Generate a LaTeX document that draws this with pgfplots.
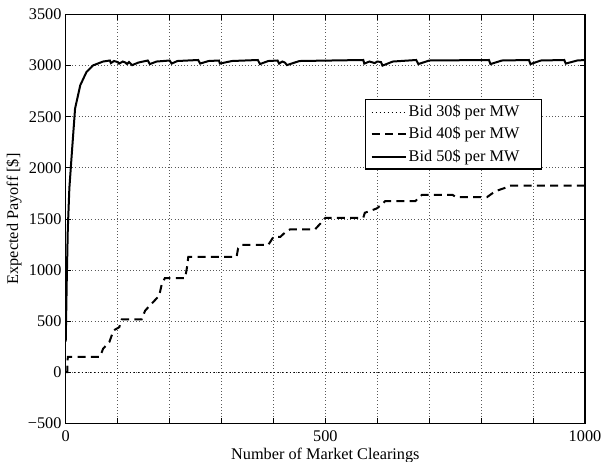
\documentclass[border=0pt]{standalone}
\usepackage{fontspec}
\setmainfont{Liberation Serif}
\usepackage{pgfplots}
\usepackage{pgfplotstable}
\pgfplotsset{compat=1.18}

% Bid 40$ per MW: step curve
\pgfplotstableread{
x y
0 0
3 0
4 150
66 150
72 230
84 295
92 408
103 440
108 516
146 516
153 603
168 684
180 749
185 863
191 921
230 921
234 1041
236 1128
329 1128
332 1213
340 1245
390 1245
397 1300
400 1323
413 1323
424 1375
432 1397
480 1397
490 1452
500 1511
573 1511
576 1560
599 1602
612 1657
615 1673
673 1673
686 1735
745 1735
752 1712
811 1712
827 1770
849 1809
856 1826
1000 1826
}\bidforty

% Bid 50$ per MW
\pgfplotstableread{
x y
0 300
2 900
4 1400
7 1800
12 2160
18 2580
28 2808
40 2938
53 3003
72 3040
85 3050
87 3025
93 3045
100 3035
103 3020
110 3040
115 3030
118 3015
122 3035
128 3005
140 3030
158 3050
162 3015
175 3040
200 3050
204 3020
215 3045
255 3055
259 3020
275 3045
295 3050
297 3020
320 3045
370 3055
374 3015
390 3045
408 3050
411 3020
417 3040
422 3030
426 3005
450 3045
573 3055
575 3020
585 3040
595 3025
600 3040
607 3035
610 3000
630 3040
675 3055
679 3015
700 3050
815 3055
818 3015
840 3050
892 3055
895 3015
915 3050
960 3055
963 3020
985 3050
1000 3055
}\bidfifty

\begin{document}
\fontsize{12.2}{14.6}\selectfont
\begin{tikzpicture}
\begin{axis}[
    scale only axis,
    width=389.5pt,
    height=306.6pt,
    xmin=0, xmax=1000,
    ymin=-500, ymax=3500,
    xtick={0,100,...,1000},
    xticklabels={0,,,,,500,,,,,1000},
    ytick={-500,0,...,3500},
    yticklabels={−500,0,500,1000,1500,2000,2500,3000,3500},
    tick align=inside,
    major tick length=3.75pt,
    axis line style={line width=0.9pt},
    every tick/.style={black, line width=0.6pt},
    grid=major,
    major grid style={dotted, black!65, line width=0.5pt},
    xticklabel style={anchor=north, inner sep=0pt, yshift=-5.5pt},
    yticklabel style={anchor=east, inner sep=0pt, xshift=-3pt},
    xlabel={Number of Market Clearings},
    ylabel={Expected Payoff [\$]},
    xlabel style={at={(axis description cs:0.5,0)}, anchor=north, inner sep=0pt, yshift=-18.5pt},
    ylabel style={at={(axis description cs:-0.0996,0.5)}, anchor=center, inner sep=0pt},
    legend style={at={(0.917,0.793)}, anchor=north east, draw=black, line width=0.8pt,
        fill=white, inner xsep=4pt, inner ysep=2.5pt, row sep=3pt,
        nodes={inner sep=1.5pt}},
    legend cell align=left,
    legend image code/.code={\draw[#1] (0pt,0pt) -- (25.5pt,0pt);},
]
\addplot[black, line width=0.9pt, dash pattern=on 0.8pt off 2.2pt] coordinates {(0,0) (1000,0)};
\addlegendentry{Bid 30\$ per MW\hspace*{11pt}\mbox{}}
\addplot[black, line width=1.5pt, dash pattern=on 6pt off 4pt] table[x=x, y=y] {\bidforty};
\addlegendentry{Bid 40\$ per MW\hspace*{11pt}\mbox{}}
\addplot[black, line width=1.5pt] table[x=x, y=y] {\bidfifty};
\addlegendentry{Bid 50\$ per MW\hspace*{11pt}\mbox{}}
\end{axis}
\pgfresetboundingbox
\path ([shift={(-49.3pt,-29pt)}]current axis.south west) rectangle ([shift={(13.5pt,10.9pt)}]current axis.north east);
\end{tikzpicture}
\end{document}
